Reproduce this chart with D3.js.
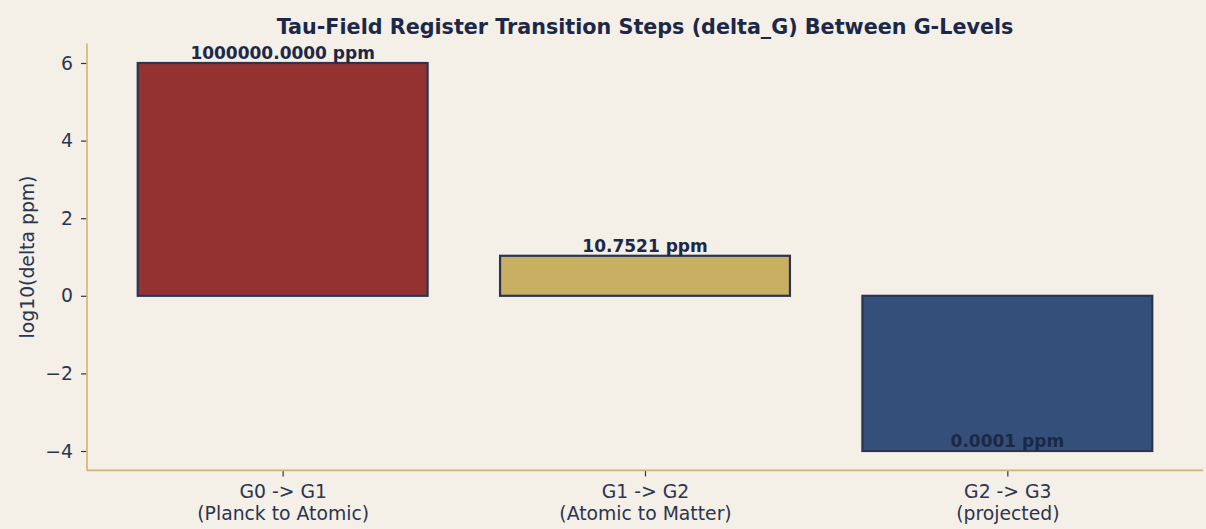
<!DOCTYPE html>
<html>
<head>
<meta charset="utf-8">
<script src="https://cdn.jsdelivr.net/npm/d3@7"></script>
<style>
    body { margin: 0; background: #f4efe7; }
    svg { display: block; font-family: "DejaVu Sans", sans-serif; }
</style>
</head>
<body>
<svg></svg>
<script>
//Chart data
const categories = ["G0 -> G1", "G1 -> G2", "G2 -> G3"];
const subLabels = ["(Planck to Atomic)", "(Atomic to Matter)", "(projected)"];
const deltaPpm = [1000000.0, 10.7521, 0.0001];
const barColors = ["#943232", "#c9af62", "#34507a"];
const yTicks = [-4, -2, 0, 2, 4, 6];

const width = 1206;
const height = 529;
const plotLeft = 87;
const plotRight = 1203;
const plotTop = 43.6;
const plotBottom = 470.4;

const ink = "#1c2846";
const tickInk = "#2b3550";
const spineColor = "#d4b46a";

const svg = d3.select("svg")
    .attr("width", width)
    .attr("height", height);

svg.append("rect")
    .attr("width", width)
    .attr("height", height)
    .attr("fill", "#f4efe7");

const values = deltaPpm.map((d) => Math.log10(d));

//Same limits matplotlib would pick (5% margins)
const xScale = d3.scaleLinear()
    .domain([-0.54, 2.54])
    .range([plotLeft, plotRight]);

const yScale = d3.scaleLinear()
    .domain([-4.5, 6.5])
    .range([plotBottom, plotTop]);

const barWidth = 0.8;

//Bars
svg.selectAll("rect.bar")
    .data(values)
    .enter()
    .append("rect")
    .attr("class", "bar")
    .attr("x", (d, i) => xScale(i - barWidth / 2))
    .attr("width", xScale(barWidth) - xScale(0))
    .attr("y", (d) => yScale(Math.max(d, 0)))
    .attr("height", (d) => Math.abs(yScale(d) - yScale(0)))
    .attr("fill", (d, i) => barColors[i])
    .attr("stroke", tickInk)
    .attr("stroke-width", 2.2);

//Value labels sit on value + 0.1
svg.selectAll("text.value")
    .data(values)
    .enter()
    .append("text")
    .attr("class", "value")
    .attr("x", (d, i) => xScale(i))
    .attr("y", (d) => yScale(d + 0.1))
    .attr("text-anchor", "middle")
    .attr("font-size", "17px")
    .attr("font-weight", "bold")
    .attr("fill", ink)
    .text((d, i) => deltaPpm[i].toFixed(4) + " ppm");

//Y axis
const yAxis = d3.axisLeft(yScale)
    .tickValues(yTicks)
    .tickFormat((d) => d < 0 ? "\u2212" + Math.abs(d) : d)
    .tickSize(6)
    .tickPadding(8);

const yAxisGroup = svg.append("g")
    .attr("transform", "translate(" + plotLeft + ", 0)")
    .call(yAxis);

yAxisGroup.select(".domain").remove();
yAxisGroup.selectAll(".tick line").attr("stroke", tickInk).attr("stroke-width", 1.2);
yAxisGroup.selectAll(".tick text")
    .attr("font-size", "18.8px")
    .attr("font-family", "DejaVu Sans")
    .attr("fill", tickInk);

//X axis
const xAxis = d3.axisBottom(xScale)
    .tickValues([0, 1, 2])
    .tickFormat("")
    .tickSize(6);

const xAxisGroup = svg.append("g")
    .attr("transform", "translate(0, " + plotBottom + ")")
    .call(xAxis);

xAxisGroup.select(".domain").remove();
xAxisGroup.selectAll(".tick line").attr("stroke", tickInk).attr("stroke-width", 1.2);

//Two-line category labels
xAxisGroup.selectAll(".tick")
    .append("text")
    .attr("text-anchor", "middle")
    .attr("font-size", "18.8px")
    .attr("font-family", "DejaVu Sans")
    .attr("fill", tickInk)
    .each(function (d) {
        const t = d3.select(this);
        t.append("tspan").attr("x", 0).attr("y", 28).text(categories[d]);
        t.append("tspan").attr("x", 0).attr("y", 49.5).text(subLabels[d]);
    });

//Spines (left and bottom only)
svg.append("line")
    .attr("x1", plotLeft).attr("x2", plotLeft)
    .attr("y1", plotTop).attr("y2", plotBottom)
    .attr("stroke", spineColor)
    .attr("stroke-width", 1.6);

svg.append("line")
    .attr("x1", plotLeft).attr("x2", plotRight)
    .attr("y1", plotBottom).attr("y2", plotBottom)
    .attr("stroke", spineColor)
    .attr("stroke-width", 1.6);

//Title
svg.append("text")
    .attr("x", (plotLeft + plotRight) / 2)
    .attr("y", 33.5)
    .attr("text-anchor", "middle")
    .attr("font-size", "20.7px")
    .attr("font-weight", "bold")
    .attr("fill", ink)
    .text("Tau-Field Register Transition Steps (delta_G) Between G-Levels");

//Y label
svg.append("text")
    .attr("transform", "translate(34, " + ((plotTop + plotBottom) / 2) + ") rotate(-90)")
    .attr("text-anchor", "middle")
    .attr("font-size", "18.8px")
    .attr("fill", tickInk)
    .text("log10(delta ppm)");
</script>
</body>
</html>
